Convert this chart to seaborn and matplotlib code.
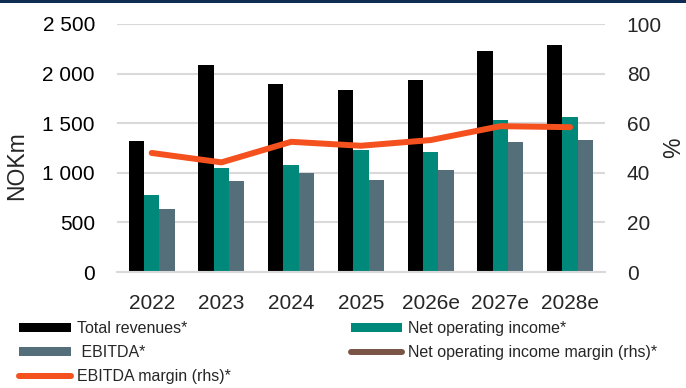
import numpy as np
import pandas as pd
import matplotlib
matplotlib.use("Agg")
import matplotlib.pyplot as plt
import seaborn as sns
from matplotlib.lines import Line2D
from matplotlib.patches import Rectangle
from matplotlib.ticker import FixedLocator, FuncFormatter, MultipleLocator

# ---- data -------------------------------------------------------------
years = ["2022", "2023", "2024", "2025", "2026e", "2027e", "2028e"]
total_revenues = [1319, 2086, 1894, 1834, 1932, 2230, 2285]
net_operating_income = [774, 1050, 1077, 1228, 1205, 1531, 1561]
ebitda = [633, 922, 993, 932, 1026, 1306, 1329]
ebitda_margin = [48.0, 44.2, 52.5, 50.9, 53.2, 58.8, 58.4]          # %
noi_margin = [np.nan, np.nan, np.nan, np.nan, np.nan, np.nan, np.nan]  # % (not reported)

bar_series = ["Total revenues*", "Net operating income*", " EBITDA*"]
bar_colors = ["#000000", "#00897B", "#546E7A"]
ebitda_margin_label = "EBITDA margin (rhs)*"
noi_margin_label = "Net operating income margin (rhs)*"
ebitda_margin_color = "#F4511E"
noi_margin_color = "#795548"

# ---- styling ------------------------------------------------------------
sns.set_style("white")
plt.rcParams["font.family"] = ["Liberation Sans", "DejaVu Sans"]
grid_color = "#D9D9D9"

df = pd.DataFrame({
    "year": years * 3,
    "series": [bar_series[0]] * 7 + [bar_series[1]] * 7 + [bar_series[2]] * 7,
    "value": total_revenues + net_operating_income + ebitda,
})

W, H = 686, 388
fig = plt.figure(figsize=(W / 100, H / 100), dpi=100)
ax = fig.add_axes([116.8 / W, 1 - 272 / H, (605 - 116.8) / W, (272 - 24) / H])

sns.barplot(data=df, x="year", y="value", hue="series", order=years,
            hue_order=bar_series, palette=bar_colors, width=0.66, gap=0,
            linewidth=0, saturation=1, legend=False, ax=ax)

ax.set_ylim(0, 2500)
ax.yaxis.set_major_locator(MultipleLocator(500))
ax.yaxis.set_major_formatter(FuncFormatter(lambda v, _: f"{int(v):,}".replace(",", " ")))
ax.yaxis.grid(True, color=grid_color, linewidth=1.5)
ax.set_axisbelow(True)
for side in ("top", "left", "right"):
    ax.spines[side].set_visible(False)
ax.spines["bottom"].set_color(grid_color)
ax.spines["bottom"].set_linewidth(1.5)

ax.tick_params(axis="y", length=0, pad=15.7, labelsize=15, colors="#000000")
ax.tick_params(axis="x", which="major", length=0, pad=15.5, labelsize=15)
ax.xaxis.set_minor_locator(FixedLocator(np.arange(-0.5, len(years), 1.0)))
ax.tick_params(axis="x", which="minor", length=4.3, width=1.1, color=grid_color)
ax.set_xlabel("")
ax.set_ylabel("NOKm", fontsize=16.5)
ax.yaxis.set_label_coords(-0.182, 0.43)

# ---- margin lines on the right axis --------------------------------------
ax2 = ax.twinx()
pos = np.arange(len(years))
sns.lineplot(x=pos, y=ebitda_margin, ax=ax2, color=ebitda_margin_color,
             linewidth=4.3, solid_capstyle="round", solid_joinstyle="round")
noi_line, = ax2.plot(pos, noi_margin, color=noi_margin_color, linewidth=4.3,
                     solid_capstyle="round")
ax2.set_ylim(0, 100)
ax2.yaxis.set_major_locator(MultipleLocator(20))
ax2.tick_params(axis="y", length=0, pad=15.7, labelsize=15)
for side in ax2.spines:
    ax2.spines[side].set_visible(False)
ax2.set_xlabel("")
ax2.set_ylabel("%", fontsize=16.5)
ax2.yaxis.set_label_coords(1.118, 0.5)
ax.set_xlim(-0.5, len(years) - 0.5)

# ---- legend -------------------------------------------------------------
def line_handle(color):
    return Line2D([], [], color=color, linewidth=4.3, solid_capstyle="round")

handles = [ax.containers[0], ax.containers[2], line_handle(ebitda_margin_color),
           ax.containers[1], line_handle(noi_margin_color)]
labels = [bar_series[0], bar_series[2], ebitda_margin_label,
          bar_series[1], noi_margin_label]
fig.legend(handles, labels, loc="upper left", bbox_to_anchor=(19 / W, 1 - 321 / H),
           ncol=2, frameon=False, fontsize=11.5, handlelength=3.25,
           handleheight=0.5, handletextpad=0.375, columnspacing=7.5,
           labelspacing=0.56, borderpad=0, borderaxespad=0)

# header band
fig.add_artist(Rectangle((0, 1 - 3 / H), 1, 3 / H, transform=fig.transFigure,
                         color="#0F2C52", linewidth=0))

fig.savefig("out.png", dpi=100)
